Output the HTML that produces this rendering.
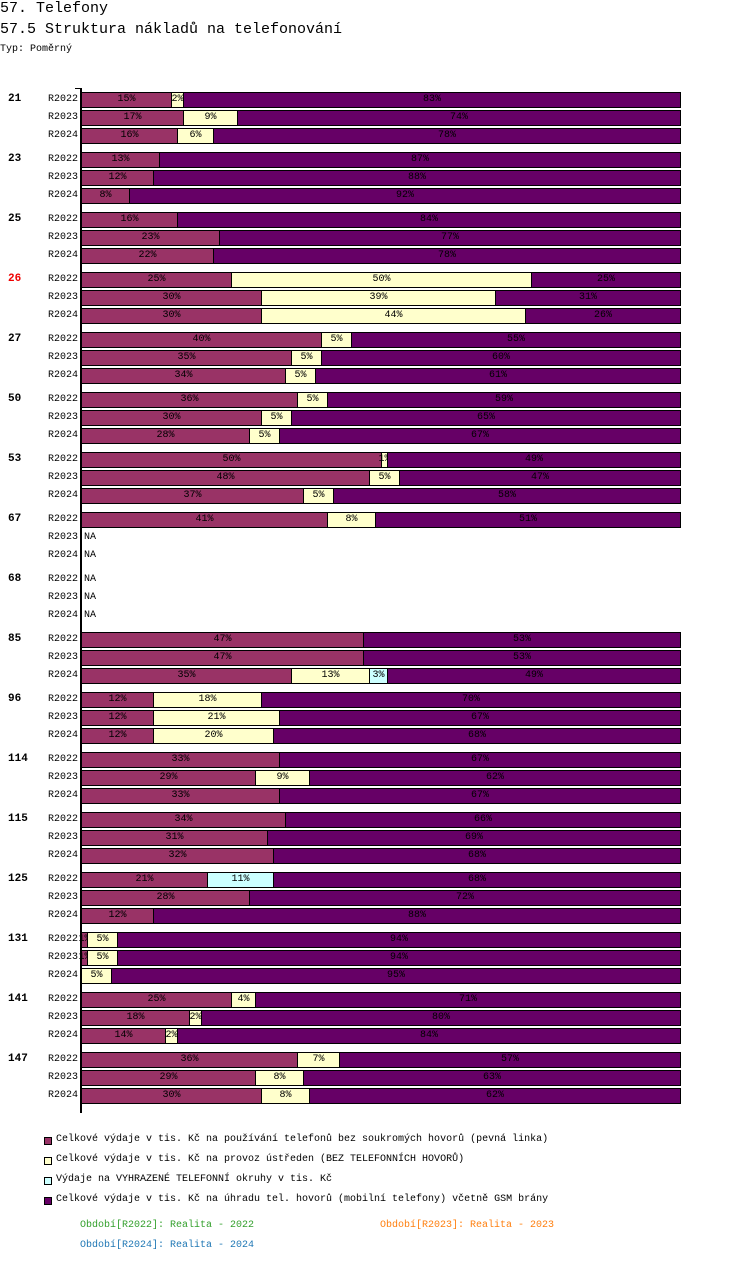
<!DOCTYPE html>
<html><head><meta charset="utf-8">
<style>
body{margin:0;background:#fff;width:750px;height:1282px;position:relative;font-family:"Liberation Mono",monospace;overflow:hidden}
.a{position:absolute;white-space:nowrap}
.seg{position:absolute;box-sizing:border-box;border:1px solid #000;height:16px;font-size:10px;line-height:14px;text-align:center;color:#000}
.seg span{position:absolute;left:50%;transform:translateX(-50%)}
.lg{position:absolute;width:8px;height:8px;border:1px solid #000;box-sizing:border-box;left:44px}
</style></head><body>
<div class="a" style="left:0;top:0;font-size:15px;line-height:17px">57. Telefony</div>
<div class="a" style="left:0;top:21px;font-size:15px;line-height:17px">57.5 Struktura nákladů na telefonování</div>
<div class="a" style="left:0;top:44px;font-size:10px">Typ: Poměrný</div>
<div class="a" style="left:80px;top:88px;width:2px;height:1025px;background:#000"></div>
<div class="a" style="left:75px;top:88px;width:6px;height:1px;background:#000"></div>
<div id="chart"></div>
<div class="lg" style="top:1137px;background:#993366"></div>
<div class="a" style="left:56px;top:1134px;font-size:10px">Celkové výdaje v tis. Kč na používání telefonů bez soukromých hovorů (pevná linka)</div>
<div class="lg" style="top:1157px;background:#ffffcc"></div>
<div class="a" style="left:56px;top:1154px;font-size:10px">Celkové výdaje v tis. Kč na provoz ústředen (BEZ TELEFONNÍCH HOVORŮ)</div>
<div class="lg" style="top:1177px;background:#ccffff"></div>
<div class="a" style="left:56px;top:1174px;font-size:10px">Výdaje na VYHRAZENÉ TELEFONNÍ okruhy v tis. Kč</div>
<div class="lg" style="top:1197px;background:#660066"></div>
<div class="a" style="left:56px;top:1194px;font-size:10px">Celkové výdaje v tis. Kč na úhradu tel. hovorů (mobilní telefony) včetně GSM brány</div>
<div class="a" style="left:80px;top:1220px;font-size:10px;color:#33a02c">Období[R2022]: Realita - 2022</div>
<div class="a" style="left:380px;top:1220px;font-size:10px;color:#ff7f0e">Období[R2023]: Realita - 2023</div>
<div class="a" style="left:80px;top:1240px;font-size:10px;color:#1f77b4">Období[R2024]: Realita - 2024</div>
<script>
const groups=["21","23","25","26","27","50","53","67","68","85","96","114","115","125","131","141","147"];
const periods=["R2022","R2023","R2024"];
const seriesColors=["#993366","#ffffcc","#ccffff","#660066"];
// each row: [fixed, exchange, reserved, mobile] in %, null = NA
const values=[
[[15,2,0,83],[17,9,0,74],[16,6,0,78]],
[[13,0,0,87],[12,0,0,88],[8,0,0,92]],
[[16,0,0,84],[23,0,0,77],[22,0,0,78]],
[[25,50,0,25],[30,39,0,31],[30,44,0,26]],
[[40,5,0,55],[35,5,0,60],[34,5,0,61]],
[[36,5,0,59],[30,5,0,65],[28,5,0,67]],
[[50,1,0,49],[48,5,0,47],[37,5,0,58]],
[[41,8,0,51],null,null],
[null,null,null],
[[47,0,0,53],[47,0,0,53],[35,13,3,49]],
[[12,18,0,70],[12,21,0,67],[12,20,0,68]],
[[33,0,0,67],[29,9,0,62],[33,0,0,67]],
[[34,0,0,66],[31,0,0,69],[32,0,0,68]],
[[21,0,11,68],[28,0,0,72],[12,0,0,88]],
[[1,5,0,94],[1,5,0,94],[0,5,0,95]],
[[25,4,0,71],[18,2,0,80],[14,2,0,84]],
[[36,7,0,57],[29,8,0,63],[30,8,0,62]]
];
const X0=81,W=600,Y0=92,GP=60,RP=18;
const xs=v=>X0+v/100*W;
const c=document.getElementById('chart');
groups.forEach((g,gi)=>{
  const gl=document.createElement('div');
  gl.className='a';
  
  
  gl.style.cssText=`left:8px;top:${Y0+gi*GP+1}px;font-size:11px;font-weight:bold;color:${g==="26"?"#e00":"#000"}`;
  gl.textContent=g;c.appendChild(gl);
  periods.forEach((p,pi)=>{
    const y=Y0+gi*GP+pi*RP;
    const rl=document.createElement('div');
    rl.className='a';
    
    
    rl.style.cssText=`right:${750-78}px;top:${y+2}px;font-size:10px`;
    rl.textContent=p;c.appendChild(rl);
    const row=values[gi][pi];
    if(!row){
      const na=document.createElement('div');
      na.className='a';
      
      
      na.style.cssText=`left:84px;top:${y+2}px;font-size:10px`;
      na.textContent='NA';c.appendChild(na);return;
    }
    let cum=0;
    row.forEach((v,si)=>{
      if(v<=0)return;
      const s=document.createElement('div');
      s.className='seg';
      
      
      const x1=Math.round(xs(cum)),x2=Math.round(xs(cum+v));
      s.style.cssText=`left:${x1}px;top:${y}px;width:${Math.min(x2-x1+1,X0+W-x1)}px;background:${seriesColors[si]}`;
      const t=document.createElement('span');
      t.textContent=Math.round(v)+'%';
      s.appendChild(t);
      c.appendChild(s);
      cum+=v;
    });
  });
});
</script>
</body></html>
